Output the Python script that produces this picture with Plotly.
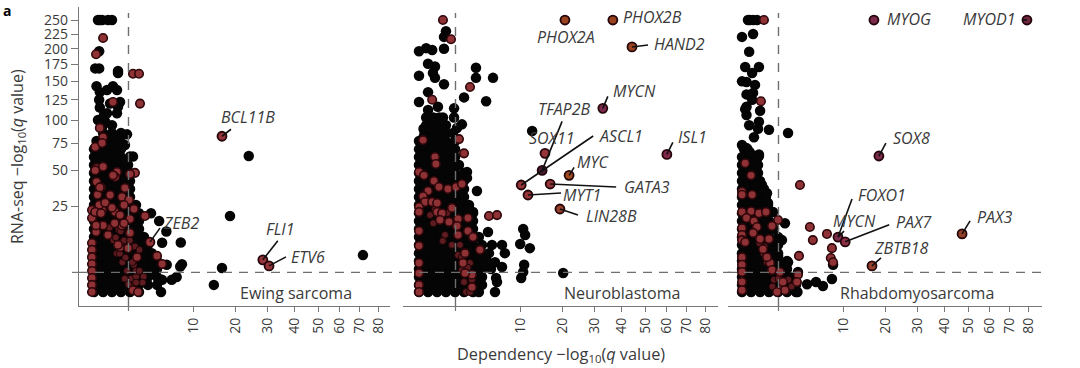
import numpy as np
import plotly.graph_objects as go

x_ticks = [10, 20, 30, 40, 50, 60, 70, 80]
y_ticks = [25, 50, 75, 100, 125, 150, 175, 200, 225, 250]
threshold = 1.3

ewing_black = [
 (.004,0),(.12,0),(.39,0),(.82,0),(1.41,0),(2.16,0),(4.65,0),
 (.004,.17),(.12,.17),(.39,.17),(.82,.17),(1.41,.17),(2.16,.17),(3.06,.17),(4.13,.17),
 (.004,.76),(.12,.76),(.39,.76),(.82,.76),(1.41,.76),(2.16,.76),(3.06,.76),(4.13,.76),
 (.004,1.8),(.12,1.8),(.39,1.8),(.82,1.8),(1.41,1.8),(2.16,1.8),(3.06,1.8),(4.13,1.8),
 (.004,3.25),(.12,3.25),(.39,3.25),(.82,3.25),(1.41,3.25),(2.16,3.25),(3.06,3.25),(4.13,3.25),
 (.004,5.1),(.12,5.1),(.39,5.1),(.82,5.1),(1.41,5.1),(2.16,5.1),(3.06,5.1),(3.5,5.1),
 (.004,7.5),(.12,7.5),(.39,7.5),(.82,7.5),(1.41,7.5),(2.16,7.5),(3.06,7.5),
 (.004,10.2),(.12,10.2),(.39,10.2),(.82,10.2),(1.41,10.2),(2.16,10.2),(2.64,10.2),
 (.004,13.4),(.12,13.4),(.39,13.4),(.82,13.4),(1.41,13.4),(2.16,13.4),
 (.004,17),(.12,17),(.39,17),(.82,17),(1.41,17),(2.16,17),
 (.004,21),(.12,21),(.39,21),(.82,21),(1.41,21),(2.16,21),(3.4,21),
 (.004,25.6),(.12,25.6),(.39,25.6),(.82,25.6),(1.41,25.6),(1.89,25.6),
 (.004,30.5),(.12,30.5),(.39,30.5),(.82,30.5),(1.41,30.5),
 (.004,35.9),(.12,35.9),(.39,35.9),(.82,35.9),(1.41,35.9),
 (.004,41.6),(.12,41.6),(.39,41.6),(.82,41.6),(1.41,41.6),
 (.004,47.9),(.12,47.9),(.39,47.9),(.82,47.9),(1.41,47.9),
 (.004,54.5),(.12,54.5),(.39,54.5),(.82,54.5),(1.27,54.5),
 (.004,61.6),(.12,61.6),(.39,61.6),(.82,61.6),(1.41,62),(1.64,62),
 (.004,69),(.12,69),(.39,69),(.82,69),
 (.02,77),(.12,77),(.39,77),(.77,78),(1.06,73),(.4,73),
 (.12,85.5),(.39,85.5),(.82,85.5),(1.2,84),
 (.12,94),(.39,94),
 (.035,250),(.06,250),(.1,250),(.25,250),(.39,250),
 (.05,196),(.01,169),(.05,169),(.66,165),(.66,162),
 (.02,143),(.43,143),(.61,138),(.06,135),(.22,138),(.77,122),(.61,108),(.66,116),
 (.05,125),(.06,115),(.22,108),(.035,100),(.17,98),(.32,120),(.14,106),
 (4.4,17),(5.4,12.4),(4.8,8.2),(7.7,8.3),(5.45,2.5),(7.9,2.6),(7.6,2.2),(7,.76),(6.2,.5),(4.8,.5),
 (18.6,19.5),(24,62.5),(14.5,.17),(16.5,1.95),(71.7,4.6),
]
ewing_core = [
 (.04,.03),(.23,.03),(.59,.03),(1.1,.03),(1.76,.03),
 (.04,.41),(.23,.41),(.59,.41),(1.1,.41),(1.76,.41),(2.59,.41),
 (.04,1.22),(.23,1.22),(.59,1.22),(1.1,1.22),(1.76,1.22),(2.59,1.22),(3.57,1.22),
 (.04,2.5),(.23,2.5),(.59,2.5),(1.1,2.5),(1.76,2.5),(2.59,2.5),(3.57,2.5),
 (.04,4.1),(.23,4.1),(.59,4.1),(1.1,4.1),(1.76,4.1),(2.59,4.1),(3.57,4.1),
 (.04,6.25),(.23,6.25),(.59,6.25),(1.1,6.25),(1.76,6.25),(2.59,6.25),
 (.04,8.8),(.23,8.8),(.59,8.8),(1.1,8.8),(1.76,8.8),(2.59,8.8),
 (.04,11.8),(.23,11.8),(.59,11.8),(1.1,11.8),(1.76,11.8),
 (.04,15.2),(.23,15.2),(.59,15.2),(1.1,15.2),(1.76,15.2),
 (.04,19),(.23,19),(.59,19),(1.1,19),(1.76,19),
 (.04,23.3),(.23,23.3),(.59,23.3),(1.1,23.3),
 (.04,28),(.23,28),(.59,28),(1.1,28),
 (.04,33.1),(.23,33.1),(.59,33.1),(1.1,33.1),
 (.04,38.7),(.23,38.7),(.59,38.7),(1.1,38.7),
 (.04,44.7),(.23,44.7),(.59,44.7),(1.1,44.7),
 (.04,51),(.23,51),(.59,51),(1.1,51),
 (.04,58),(.23,58),(.59,58),(1.1,58),
 (.04,65),(.23,65),(.59,65),
 (.04,73),(.23,73),(.59,73),
 (.23,81),(.59,81),
]
ewing_red = [
 (.12,218),(.016,191),(1.64,161),(2.16,161),(2.25,120),(.43,122),
 (.06,91),(.12,81),(.01,71),(.1,75),(.02,52),(.61,48.7),(1.8,48),(1.41,47),(.02,41),(.52,44.7),
 (.08,37),(1.06,36.6),(.88,30.5),(1.34,28.6),(1.72,23.3),(2.74,19.5),(.165,26.8),(0,22.7),(.1,22.7),
 (.52,21.6),(0,18.5),(.12,15),(1.41,18),(.88,15),(.016,12.2),(1.41,11.8),(0,8.1),(.77,6.8),(1.27,6.5),
 (1.98,4.1),(4.13,4.4),(4.8,2.65),(1.64,.01),(2.07,0),(0,6),(0,4.1),(0,2.65),(0,1.5),(0,.66),(0,.17),(0,0),
 (.25,11),(.66,7.5),(.32,31.8),(.77,20),(1.0,25.6),(.03,32),(.05,25.6),(.016,15),
 (.12,53),(.01,50),(.06,37),(.43,46),(.17,27),(.01,21.6),(.08,21),(.39,24),(.5,16),(1.0,16),
]
ewing_dim = [
 (.3,14),(.45,9),(.6,5),(.9,3),(1.2,1.5),(1.5,.6),(1.5,.1),(1.05,.6),(.7,13),(1.0,9),(1.3,6),(1.7,2.5),(1.9,.8),
 (.8,12.5),(1.4,9),(1.8,7),(2.2,6),(.55,10),(.75,5),(1.1,4),(1.6,3),(1.9,1.5),(2.2,1.5),(2.6,.8),(2.5,.3),(1.3,.2),(1.9,.3),
]
ewing_genes = ["BCL11B", "ZEB2", "FLI1", "ETV6"]
ewing_gene_x = [16.5, 3.28, 28.5, 30.6]
ewing_gene_y = [82, 8.4, 3.5, 2.3]

neuro_black = [
 (0,0),(.08,0),(.32,0),(.71,0),(1.27,0),(1.98,0),(2.85,0),(3.5,0),
 (0,.17),(.08,.17),(.32,.17),(.71,.17),(1.27,.17),(1.98,.17),(2.85,.17),(3.88,.17),
 (0,.76),(.08,.76),(.32,.76),(.71,.76),(1.27,.76),(1.98,.76),(2.85,.76),(3.88,.76),
 (0,1.8),(.08,1.8),(.32,1.8),(.71,1.8),(1.27,1.8),(1.98,1.8),(2.85,1.8),(3.88,1.8),(5.06,1.8),
 (0,3.25),(.08,3.25),(.32,3.25),(.71,3.25),(1.27,3.25),(1.98,3.25),(2.85,3.25),(3.88,3.25),(4.5,3.25),
 (0,5.1),(.08,5.1),(.32,5.1),(.71,5.1),(1.27,5.1),(1.98,5.1),(2.85,5.1),(3.88,5.1),(4.78,5.1),
 (0,7.5),(.08,7.5),(.32,7.5),(.71,7.5),(1.27,7.5),(1.98,7.5),(2.85,7.5),(3.88,7.5),
 (0,10.2),(.08,10.2),(.32,10.2),(.71,10.2),(1.27,10.2),(1.98,10.2),(2.85,10.2),(3.5,10.2),
 (0,13.4),(.08,13.4),(.32,13.4),(.71,13.4),(1.27,13.4),(1.98,13.4),(2.85,13.4),
 (0,17),(.08,17),(.32,17),(.71,17),(1.27,17),(1.98,17),(2.85,17),
 (0,21),(.08,21),(.32,21),(.71,21),(1.27,21),(1.98,21),(2.85,21),
 (0,25.6),(.08,25.6),(.32,25.6),(.71,25.6),(1.27,25.6),(1.98,25.6),(2.44,25.6),
 (0,30.5),(.08,30.5),(.32,30.5),(.71,30.5),(1.27,30.5),(1.98,30.5),
 (0,35.9),(.08,35.9),(.32,35.9),(.71,35.9),(1.27,35.9),(1.98,35.9),
 (0,41.6),(.08,41.6),(.32,41.6),(.71,41.6),(1.27,41.6),(1.98,41.6),
 (0,47.9),(.08,47.9),(.32,47.9),(.71,47.9),(1.27,47.9),(1.98,47.9),
 (0,54.5),(.08,54.5),(.32,54.5),(.71,54.5),(1.27,54.5),(1.56,54.5),
 (0,61.6),(.08,61.6),(.32,61.6),(.71,61.6),(1.27,61.6),
 (0,69),(.08,69),(.32,69),(.71,69),(1.27,69),
 (0,77),(.08,77),(.32,77),(.71,77),(1.27,77),
 (.03,85.5),(.08,85.5),(.32,85.5),(.71,85.5),(1.13,85.5),
 (.05,94),(.14,94),(.32,94),(.71,94),
 (.05,103),(.2,103),(.4,103),(.56,103),
 (.71,230),(.61,220),(.61,200),(.17,198),(.05,201),(0,196),(.08,176),(.25,172),(.19,162),(.25,155),
 (0,158),(.61,146),(3.17,170),(3.17,155),(5.35,155),(1.98,128),(4.4,123),(.08,135),(0,122),(.35,116),
 (.08,112),(1.2,114),(1.2,103),(1.8,95),(1.41,91),(12.5,87.6),(20.3,1.22),
 (5.2,7.5),(6.73,7.5),(7.2,5.1),(5.64,3),(6.73,2.1),(5.8,.66),(5.64,0),(4.65,12.2),(3.28,34.5),(2.25,48.7),
 (2.25,44),(2.85,21.7),(4.5,2.5),(10.6,13.4),(11,11),(10,7.8),(12,6.5),(10.8,2.5),(10.6,1.35),(10.2,.66),(5.94,.34),
]
neuro_core = [
 (.02,.03),(.18,.03),(.49,.03),(.97,.03),(1.6,.03),(2.39,.03),
 (.02,.41),(.18,.41),(.49,.41),(.97,.41),(1.6,.41),(2.39,.41),(3.34,.41),
 (.02,1.22),(.18,1.22),(.49,1.22),(.97,1.22),(1.6,1.22),(2.39,1.22),(3.34,1.22),
 (.02,2.5),(.18,2.5),(.49,2.5),(.97,2.5),(1.6,2.5),(2.39,2.5),(3.34,2.5),(4.45,2.5),
 (.02,4.1),(.18,4.1),(.49,4.1),(.97,4.1),(1.6,4.1),(2.39,4.1),(3.34,4.1),
 (.02,6.25),(.18,6.25),(.49,6.25),(.97,6.25),(1.6,6.25),(2.39,6.25),(3.34,6.25),
 (.02,8.8),(.18,8.8),(.49,8.8),(.97,8.8),(1.6,8.8),(2.39,8.8),
 (.02,11.8),(.18,11.8),(.49,11.8),(.97,11.8),(1.6,11.8),(2.39,11.8),
 (.02,15.2),(.18,15.2),(.49,15.2),(.97,15.2),(1.6,15.2),(2.39,15.2),
 (.02,19),(.18,19),(.49,19),(.97,19),(1.6,19),(2.39,19),
 (.02,23.3),(.18,23.3),(.49,23.3),(.97,23.3),(1.6,23.3),(2.39,23.3),
 (.02,28),(.18,28),(.49,28),(.97,28),(1.6,28),
 (.02,33.1),(.18,33.1),(.49,33.1),(.97,33.1),(1.6,33.1),
 (.02,38.7),(.18,38.7),(.49,38.7),(.97,38.7),(1.6,38.7),
 (.02,44.7),(.18,44.7),(.49,44.7),(.97,44.7),(1.6,44.7),
 (.02,51),(.18,51),(.49,51),(.97,51),
 (.02,58),(.18,58),(.49,58),(.97,58),
 (.02,65),(.18,65),(.49,65),(.97,65),
 (.02,73),(.18,73),(.49,73),(.97,73),
 (.02,81),(.18,81),(.49,81),
 (.02,90),(.18,90),(.49,90),
 (.18,98),
]
neuro_red = [
 (.56,250),(1,216),(2.54,142),(.17,125),(.016,78),(1.56,79),(1.98,65),(.25,61.6),(.28,55.4),(0,48.7),
 (.024,46),(.22,41.6),(.39,37.3),(.82,35.9),(1.34,37.3),(1.8,39.4),(.08,34.5),(.016,31),(.035,27.4),
 (.17,27.4),(.32,26.8),(0,24.4),(0,21.6),(.32,21.6),(1.06,23.9),(.52,21),(1.49,18),(2.34,18.5),(.88,16.6),
 (1.41,14.7),(0,12.6),(.43,17.5),(2.34,12.6),(1.49,11),(2.85,10.2),(0,7.2),(3.63,6),(2.07,5.1),(0,2.85),
 (1.89,2.85),(0,1.2),(2.74,1),(0,.17),(2.74,.08),(0,0),(2.07,1.2),(4.78,19.5),(5.94,20),
]
neuro_dim = [
 (.12,20),(.43,17),(.66,11),(1.06,7.5),(1.49,4.6),(1.8,1.64),(1.98,.34),(1.27,15),(.25,23),(.08,28),
 (.77,21),(1.64,7.5),(2.54,2.85),(2.74,.5),(2.16,0),(2.54,0),(.2,16),(.55,8.8),(1.8,4.1),(2.3,2),
]
neuro_genes = ["PHOX2B", "PHOX2A", "HAND2", "MYCN", "ISL1", "SOX11", "TFAP2B", "MYC", "ASCL1", "GATA3", "MYT1", "LIN28B"]
neuro_gene_x = [36.7, 20.8, 44.3, 33, 60, 15.5, 14.8, 22, 10.2, 16.8, 11.6, 19.4]
neuro_gene_y = [250, 250, 203, 114, 64, 65, 50, 46, 38.7, 39.4, 31.8, 23.3]

rhabdo_black = [
 (0,0),(.08,0),(.32,0),(.71,0),(1.27,0),(1.98,0),(2.85,0),(3,0),
 (0,.17),(.08,.17),(.32,.17),(.71,.17),(1.27,.17),(1.98,.17),(2.85,.17),
 (0,.76),(.08,.76),(.32,.76),(.71,.76),(1.27,.76),(1.98,.76),(2.6,.76),
 (0,1.8),(.08,1.8),(.32,1.8),(.71,1.8),(1.27,1.8),(1.98,1.8),
 (0,3.25),(.08,3.25),(.32,3.25),(.71,3.25),(1.27,3.25),(1.98,3.25),
 (0,5.1),(.08,5.1),(.32,5.1),(.71,5.1),(1.27,5.1),
 (0,7.5),(.08,7.5),(.32,7.5),(.71,7.5),(1.27,7.5),
 (0,10.2),(.08,10.2),(.32,10.2),(.71,10.2),(1.27,10.2),
 (0,13.4),(.08,13.4),(.32,13.4),(.71,13.4),(1,13.4),
 (0,17),(.08,17),(.32,17),(.71,17),
 (0,21),(.08,21),(.32,21),(.71,21),
 (0,25.6),(.08,25.6),(.32,25.6),(.66,25.6),
 (0,30.5),(.08,30.5),(.32,30.5),(.56,30.5),
 (0,35.9),(.08,35.9),(.32,35.9),(.47,35.9),
 (0,41.6),(.08,41.6),(.32,41.6),
 (0,47.9),(.08,47.9),(.25,47.9),
 (0,54.5),(.08,54.5),(.25,54.5),
 (0,61.6),(.08,61.6),(.25,61.6),
 (.004,69),(.03,69),
 (.28,62.5),(.39,38.7),(.61,33),(.66,26.8),(.94,21.6),(1.8,16),(1.56,9.1),(1.27,4.4),(2.07,3),(3.06,1.35),
 (4.13,.2),(5.35,.34),(6.4,.12),(7.9,.57),(8.1,2.5),
 (.035,250),(.06,250),(.12,250),(.22,250),(.12,225),(0,220),(.05,195),(.01,171),(.28,171),(.1,162),
 (0,150),(.02,149),(.165,145),(.02,132),(.12,134),(.1,125),(.02,116),(.01,113),(.32,111),(.02,106),
 (.28,98),(.05,94),(.25,90),(.71,89),(.14,81),(2.07,85.5),(0,73),(.02,70),(.06,66),(.28,64),
]
rhabdo_core = [
 (.02,.03),(.18,.03),(.49,.03),(.97,.03),(1.6,.03),(2.39,.03),
 (.02,.41),(.18,.41),(.49,.41),(.97,.41),(1.6,.41),(2.39,.41),
 (.02,1.22),(.18,1.22),(.49,1.22),(.97,1.22),(1.6,1.22),
 (.02,2.5),(.18,2.5),(.49,2.5),(.97,2.5),(1.6,2.5),
 (.02,4.1),(.18,4.1),(.49,4.1),(.97,4.1),
 (.02,6.25),(.18,6.25),(.49,6.25),(.97,6.25),
 (.02,8.8),(.18,8.8),(.49,8.8),(.97,8.8),
 (.02,11.8),(.18,11.8),(.49,11.8),
 (.02,15.2),(.18,15.2),(.49,15.2),
 (.02,19),(.18,19),(.49,19),
 (.02,23.3),(.18,23.3),(.49,23.3),
 (.02,28),(.18,28),
 (.02,33.1),(.18,33.1),
 (.02,38.7),(.18,38.7),
 (.02,44.7),(.18,44.7),
 (.02,51),(.18,51),
 (.02,58),(.18,58),
]
rhabdo_red = [
 (.47,250),(.35,123),(.01,56),(.08,46),(0,34),(0,32),(.1,32),(0,21.6),(.08,22),(.28,21),(.56,21.6),
 (.02,18.5),(.14,17),(1.27,17.5),(.88,14.7),(.22,14.3),(0,13.8),(0,11),(0,9.1),(.12,11.8),(.01,8.4),
 (.32,9.5),(.71,9.5),(0,4.1),(0,2.5),(0,1.35),(0,.34),(0,.01),(.77,2.85),(.88,1.64),(1.41,1.35),(1.64,.34),
 (3.06,1),(2.95,.34),(1.8,.01),(1.2,0),(.61,4.1),(.43,6.2),
 (3.28,38.7),(4.5,14.3),(4.9,9.1),(7.05,11.4),(7.9,6.5),(7.7,3.9),(8.1,3),(3.17,4.4),
]
rhabdo_dim = [(.3,8),(.45,5),(.6,3),(.8,1.5),(1,.5),(1.3,.6),(.9,.1),(1.5,.1),(.5,7),(2.1,.5),(2.4,.1)]
rhabdo_genes = ["MYOG", "MYOD1", "SOX8", "MYCN", "PAX7", "PAX3", "ZBTB18"]
rhabdo_gene_x = [17, 79.3, 18.3, 9, 10.4, 47.3, 16.5]
rhabdo_gene_y = [250, 250, 62.5, 10.2, 8.5, 11.4, 2.3]

# ---------- layout constants (pixels of the 1080x368 page) ----------
W, H = 1080, 368
AX_BOTTOM, AX_TOP = 306, 7
PX_X, PX_Y = 32.0, 17.2
Y0_PX = 292
panels = [
    dict(name="Ewing sarcoma", l=79, r=390, x0=92, black=ewing_black, core=ewing_core, red=ewing_red, dim=ewing_dim,
         genes=ewing_genes, gx=ewing_gene_x, gy=ewing_gene_y, title_x=296),
    dict(name="Neuroblastoma", l=403, r=718, x0=419, black=neuro_black, core=neuro_core, red=neuro_red, dim=neuro_dim,
         genes=neuro_genes, gx=neuro_gene_x, gy=neuro_gene_y, title_x=622),
    dict(name="Rhabdomyosarcoma", l=728, r=1042, x0=742, black=rhabdo_black, core=rhabdo_core, red=rhabdo_red, dim=rhabdo_dim,
         genes=rhabdo_genes, gx=rhabdo_gene_x, gy=rhabdo_gene_y, title_x=917),
]
# gene: text centre px, text centre py, leader tail offset from the point (None = no leader)
label_style = {
    "Ewing sarcoma": {
        "BCL11B": (247.5, 117, (9, -7)), "ZEB2": (181, 223, (10, -14)),
        "FLI1": (280, 229, (15, -19)), "ETV6": (308, 257, (17, -9))},
    "Neuroblastoma": {
        "PHOX2B": (652, 17, None), "PHOX2A": (566, 37, None), "HAND2": (679, 44, (16, -2)),
        "MYCN": (634, 91, (5, -12)), "ISL1": (692, 137, (6, -12)), "SOX11": (552, 138, None),
        "TFAP2B": (564, 109, (20, -49)), "MYC": (593, 162, (5, -8)), "ASCL1": (621, 136, (72, -49)),
        "GATA3": (647, 187, (66, 3)), "MYT1": (582, 195, (33, -2)), "LIN28B": (611, 216, (18, 6))},
    "Rhabdomyosarcoma": {
        "MYOG": (909, 19, None), "MYOD1": (989, 19, (-5, 0)), "SOX8": (911, 138, (7, -13)),
        "MYCN": (854, 221, (6, -6)), "PAX7": (913, 222, (44, -17)), "PAX3": (994, 217, (8, -13)),
        "ZBTB18": (901, 248, (9, -8))},
}
gene_colors = {"MYOG": "#7c2a4c", "MYOD1": "#6f2440", "SOX8": "#7c2a4c", "MYCN": "#7c2a4c", "TFAP2B": "#4a1a30",
               "PAX7": "#8c2f45", "ISL1": "#80284a", "PHOX2B": "#98421f", "PHOX2A": "#98421f", "MYC": "#a04a20",
               "HAND2": "#98421f", "PAX3": "#96402a", "ZBTB18": "#96402a", "LIN28B": "#96402a"}
TEXT = "#3a3a3a"
AXIS = "#777777"
FONT = "Open Sans, Noto Sans, sans-serif"


def leader(xref, yref, gx, gy, off):
    return dict(type="line", xref=xref, yref=yref, xsizemode="pixel", ysizemode="pixel",
                xanchor=float(np.sqrt(gx)), yanchor=float(np.sqrt(gy)),
                x0=0, y0=0, x1=off[0], y1=-off[1], layer="above", line=dict(color="#111111", width=1.6))


fig = go.Figure()
annotations, shapes = [], []

for i, p in enumerate(panels):
    sfx = "" if i == 0 else str(i + 1)
    xref, yref = "x" + sfx, "y" + sfx
    bx, by = zip(*(p["black"] + p["core"]))
    rx, ry = zip(*p["red"])
    dx, dy = zip(*p["dim"])
    fig.add_trace(go.Scatter(x=np.sqrt(bx), y=np.sqrt(by), mode="markers", xaxis=xref, yaxis=yref,
                             marker=dict(size=10.5, color="#050505", line=dict(width=0)), showlegend=False))
    fig.add_trace(go.Scatter(x=np.sqrt(dx), y=np.sqrt(dy), mode="markers", xaxis=xref, yaxis=yref,
                             marker=dict(size=7, color="#5e1c20", line=dict(width=1, color="#1a0406")),
                             showlegend=False))
    fig.add_trace(go.Scatter(x=np.sqrt(rx), y=np.sqrt(ry), mode="markers", xaxis=xref, yaxis=yref,
                             marker=dict(size=8.5, color="#8f3236", line=dict(width=1.6, color="#2e070a")),
                             showlegend=False))
    fig.add_trace(go.Scatter(x=np.sqrt(p["gx"]), y=np.sqrt(p["gy"]), mode="markers", xaxis=xref, yaxis=yref,
                             marker=dict(size=9, color=[gene_colors.get(g, "#96343a") for g in p["genes"]],
                                         line=dict(width=1.8, color="#24060a")),
                             showlegend=False))

    axis = dict(domain=[p["l"] / W, p["r"] / W],
                range=[(p["l"] - p["x0"]) / PX_X, (p["r"] - p["x0"]) / PX_X],
                tickmode="array", tickvals=np.sqrt(x_ticks), ticktext=[str(t) for t in x_ticks], tickangle=-90,
                ticks="outside", ticklen=5, tickwidth=1.2, tickcolor=AXIS,
                showgrid=False, zeroline=False, showline=True, linecolor=AXIS, linewidth=1.4,
                tickfont=dict(size=14, color=TEXT, family=FONT), anchor=yref, fixedrange=True)
    fig.update_layout({"xaxis" + sfx: axis})
    yaxis = dict(domain=[1 - AX_BOTTOM / H, 1 - AX_TOP / H],
                 range=[(Y0_PX - AX_BOTTOM) / PX_Y, (Y0_PX - AX_TOP) / PX_Y],
                 showgrid=False, zeroline=False, anchor=xref, fixedrange=True)
    if i == 0:
        yaxis.update(tickmode="array", tickvals=np.sqrt(y_ticks),
                     ticktext=[str(t) for t in y_ticks],
                     ticks="outside", ticklen=7, tickwidth=1.2, tickcolor=AXIS,
                     showline=True, linecolor=AXIS, linewidth=1.4,
                     tickfont=dict(size=14, color=TEXT, family=FONT))
    else:
        yaxis.update(visible=False)
    fig.update_layout({"yaxis" + sfx: yaxis})

    # threshold lines and the unlabelled tick at the threshold
    sq = float(np.sqrt(threshold))
    shapes.append(dict(type="line", xref=xref, yref=yref + " domain", x0=sq, x1=sq, y0=0, y1=0.98,
                       line=dict(color="#6e6e6e", width=1.4, dash="9px,9px")))
    shapes.append(dict(type="line", xref=xref, yref="paper", x0=sq, x1=sq,
                       y0=1 - AX_BOTTOM / H, y1=1 - (AX_BOTTOM + 5) / H, line=dict(color=AXIS, width=1.2)))
    shapes.append(dict(type="line", xref=xref + " domain", yref=yref,
                       x0=0, x1=1 if i == 2 else 1 + 13 / (p["r"] - p["l"]), y0=sq, y1=sq,
                       line=dict(color="#6e6e6e", width=1.4, dash="9px,7px")))
    if i == 0:
        shapes.append(dict(type="line", xref="paper", yref=yref, x0=(p["l"] - 7) / W, x1=p["l"] / W, y0=sq, y1=sq,
                           line=dict(color=AXIS, width=1.2)))

    # panel titles
    annotations.append(dict(xref="paper", yref="paper", x=p["title_x"] / W, y=1 - 293 / H, text=p["name"],
                            showarrow=False, xanchor="center", yanchor="middle",
                            font=dict(size=16, color=TEXT, family=FONT)))
    # gene labels and leaders
    for g, gx, gy in zip(p["genes"], p["gx"], p["gy"]):
        lx, ly, lead = label_style[p["name"]][g]
        annotations.append(dict(xref="paper", yref="paper", x=lx / W, y=1 - ly / H, text="<i>%s</i>" % g,
                                showarrow=False, xanchor="center", yanchor="middle",
                                font=dict(size=16, color=TEXT, family=FONT)))
        if lead:
            shapes.append(leader(xref, yref, gx, gy, lead))
    if p["name"] == "Rhabdomyosarcoma":
        annotations.append(dict(xref="paper", yref="paper", x=882 / W, y=1 - 195 / H, text="<i>FOXO1</i>",
                                showarrow=False, xanchor="center", yanchor="middle",
                                font=dict(size=16, color=TEXT, family=FONT)))
        shapes.append(leader(xref, yref, rhabdo_gene_x[3], rhabdo_gene_y[3], (14, -38)))

annotations.append(dict(xref="paper", yref="paper", x=18 / W, y=1 - 157 / H, textangle=-90,
                        xanchor="center", yanchor="middle",
                        text="RNA-seq −log<sub>10</sub>(<i>q</i> value)", showarrow=False,
                        font=dict(size=16, color=TEXT, family=FONT)))
annotations.append(dict(xref="paper", yref="paper", x=561 / W, y=1 - 354 / H,
                        xanchor="center", yanchor="middle",
                        text="Dependency −log<sub>10</sub>(<i>q</i> value)", showarrow=False,
                        font=dict(size=16.3, color=TEXT, family=FONT)))
annotations.append(dict(xref="paper", yref="paper", x=7 / W, y=1 - 10 / H, text="<b>a</b>", showarrow=False,
                        xanchor="center", yanchor="middle", borderpad=0,
                        font=dict(size=14, color="#000000", family=FONT)))

fig.update_layout(width=W, height=H, margin=dict(l=0, r=0, t=0, b=0), autosize=False,
                  paper_bgcolor="white", plot_bgcolor="rgba(0,0,0,0)",
                  annotations=annotations, shapes=shapes, showlegend=False)
fig.write_html("out.html", config={"displayModeBar": False},
               post_script="document.body.style.margin='0';document.body.style.overflow='hidden';")
